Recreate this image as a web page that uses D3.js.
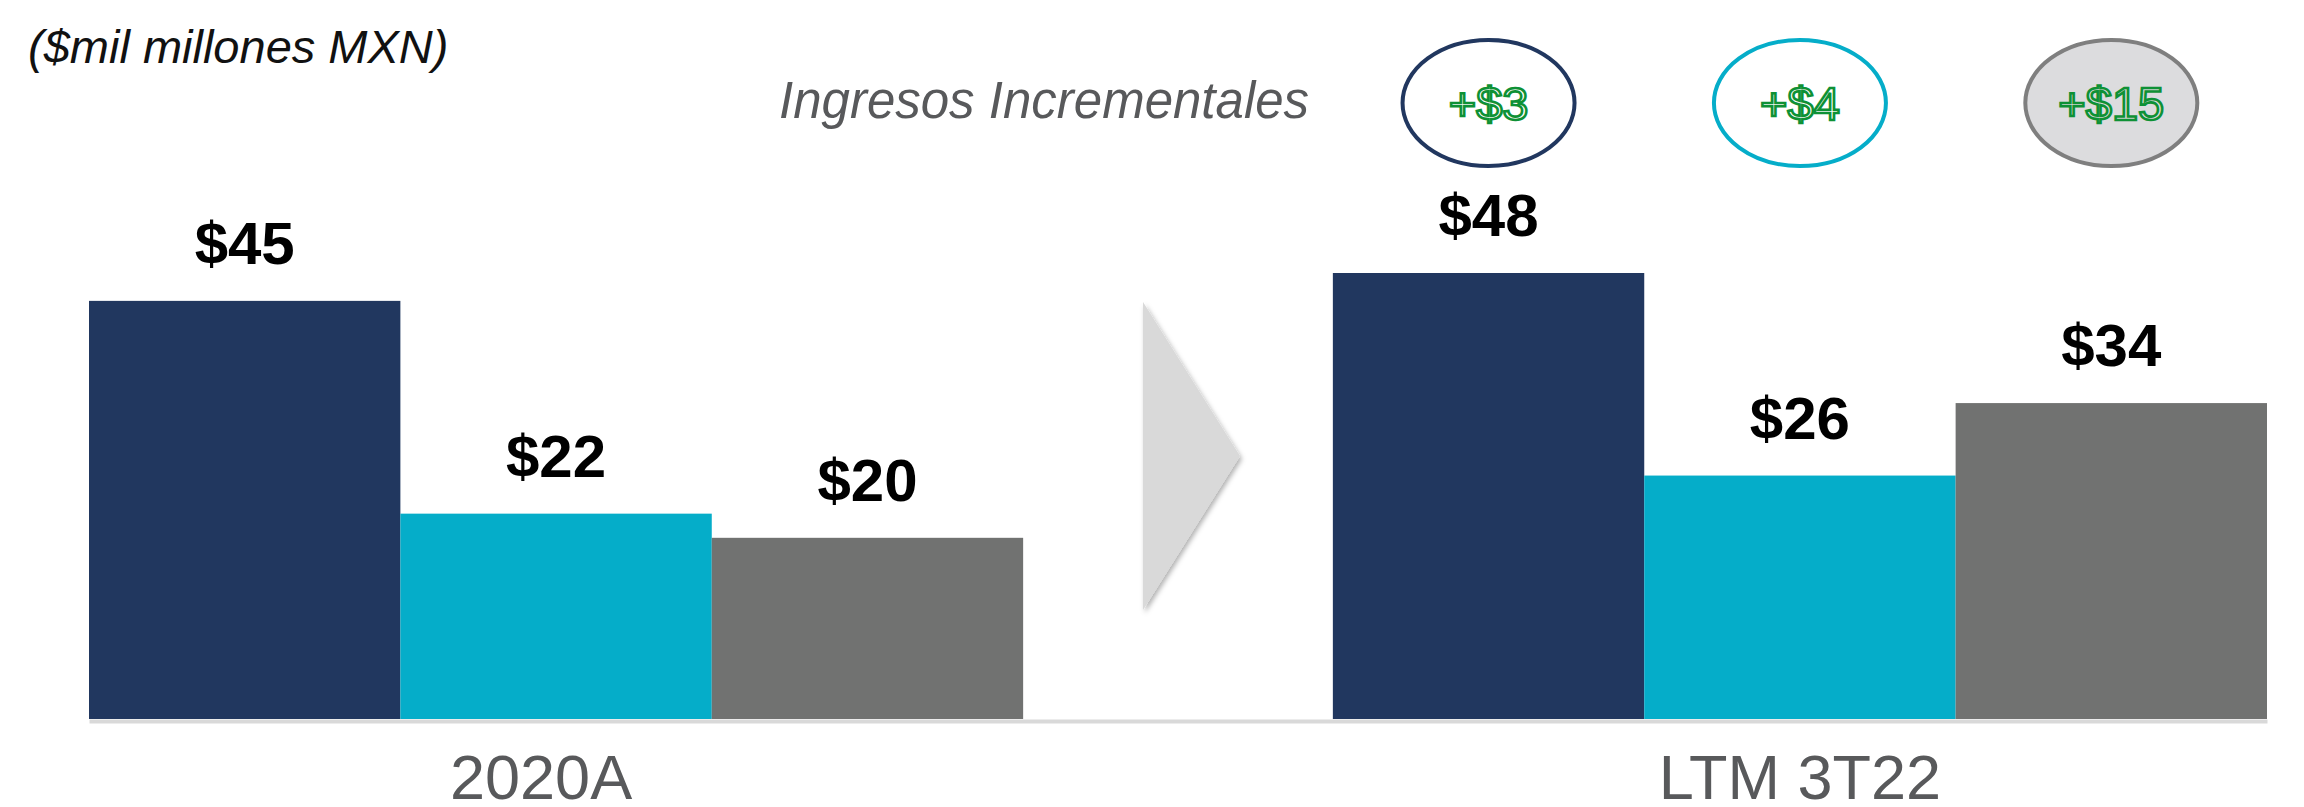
<!DOCTYPE html>
<html>
<head>
<meta charset="utf-8">
<script src="https://cdn.jsdelivr.net/npm/d3@7"></script>
<style>
  body { margin: 0; background: #fff; }
  text { font-family: "Liberation Sans", Arial, sans-serif; }
</style>
</head>
<body>
<script>
// periods and series
var periods = ["2020A", "LTM 3T22"];
var seriesKeys = ["s1", "s2", "s3"];
var seriesColors = ["#21375f", "#05adc9", "#717271"];

// revenue, $ billions MXN
var values2020 = [45, 22.1, 19.5];
var valuesLtm = [48, 26.2, 34];

// incremental revenue bubbles
var increments = [3, 4, 15];
var bubbleStroke = ["#21375f", "#05adc9", "#7f7f7f"];
var bubbleFill = ["#fff", "#fff", "#dcdcde"];

var W = 2304, H = 807;
var baseY = 721;

var svg = d3.select("body").append("svg")
    .attr("width", W).attr("height", H);

var defs = svg.append("defs");
var shadow = defs.append("filter").attr("id", "shadow")
    .attr("x", "-30%").attr("y", "-10%").attr("width", "160%").attr("height", "130%");
shadow.append("feDropShadow")
    .attr("dx", 2).attr("dy", 3).attr("stdDeviation", 2.5)
    .attr("flood-color", "#000").attr("flood-opacity", 0.3);

var x0 = d3.scaleBand().domain(periods).range([89, 2267]).paddingInner(0.249);
var x1 = d3.scaleBand().domain(seriesKeys).range([0, x0.bandwidth()]);
var y = d3.scaleLinear().domain([0, 48]).range([baseY - 2, 273]);

var rows = periods.map(function(p, i) {
  var vals = i === 0 ? values2020 : valuesLtm;
  return { period: p, bars: seriesKeys.map(function(k, j) { return { key: k, value: vals[j], color: seriesColors[j] }; }) };
});

// arrow between the two periods
var mid = (x0(periods[0]) + x0.bandwidth() + x0(periods[1])) / 2;
svg.append("path")
    .attr("d", "M" + (mid - 35) + ",302L" + (mid + 62) + ",456L" + (mid - 35) + ",610Z")
    .attr("fill", "#d9d9d9")
    .attr("filter", "url(#shadow)");

var groups = svg.selectAll("g.period")
  .data(rows)
  .enter().append("g")
    .attr("class", "period")
    .attr("transform", function(d) { return "translate(" + x0(d.period) + ",0)"; });

groups.selectAll("rect")
  .data(function(d) { return d.bars; })
  .enter().append("rect")
    .attr("x", function(d) { return x1(d.key); })
    .attr("y", function(d) { return y(d.value); })
    .attr("width", x1.bandwidth())
    .attr("height", function(d) { return y(0) - y(d.value); })
    .attr("fill", function(d) { return d.color; });

groups.selectAll("text.val")
  .data(function(d) { return d.bars; })
  .enter().append("text")
    .attr("class", "val")
    .attr("x", function(d) { return x1(d.key) + x1.bandwidth() / 2; })
    .attr("y", function(d) { return y(d.value) - 37; })
    .attr("text-anchor", "middle")
    .attr("font-size", 60)
    .attr("font-weight", "bold")
    .attr("fill", "#000")
    .text(function(d) { return "$" + Math.round(d.value); });

// axis with period labels
var axis = svg.append("g")
    .attr("transform", "translate(0," + baseY + ")")
    .call(d3.axisBottom(x0).tickSize(0).tickPadding(33));
axis.select(".domain").attr("stroke", "#d9d9d9").attr("stroke-width", 4);
axis.selectAll(".tick text")
    .attr("font-family", "Liberation Sans, Arial, sans-serif")
    .attr("font-size", 63)
    .attr("fill", "#58595b")
    .attr("dx", function(d, i) { return i === 0 ? -15 : 0; });

// title
svg.append("text")
    .attr("x", 28).attr("y", 63)
    .attr("font-size", 47)
    .attr("font-style", "italic")
    .attr("fill", "#111")
    .text("($mil millones MXN)");

svg.append("text")
    .attr("x", 779).attr("y", 118)
    .attr("font-size", 51)
    .attr("font-style", "italic")
    .attr("fill", "#58595b")
    .text("Ingresos Incrementales");

// bubbles above the LTM bars
var bx = x0(periods[1]);
var bubbles = svg.selectAll("g.bubble")
  .data(increments)
  .enter().append("g")
    .attr("class", "bubble")
    .attr("transform", function(d, i) { return "translate(" + (bx + x1(seriesKeys[i]) + x1.bandwidth() / 2) + ",103)"; });

bubbles.append("ellipse")
    .attr("rx", 86).attr("ry", 63)
    .attr("fill", function(d, i) { return bubbleFill[i]; })
    .attr("stroke", function(d, i) { return bubbleStroke[i]; })
    .attr("stroke-width", 4);

bubbles.append("text")
    .attr("y", 17)
    .attr("text-anchor", "middle")
    .attr("font-size", 47)
    .attr("fill", function(d, i) { return i === 2 ? "#dcdcde" : "#fff"; })
    .attr("stroke", "#0e9135")
    .attr("stroke-width", 2.6)
    .text(function(d) { return "+$" + d; });
</script>
</body>
</html>
